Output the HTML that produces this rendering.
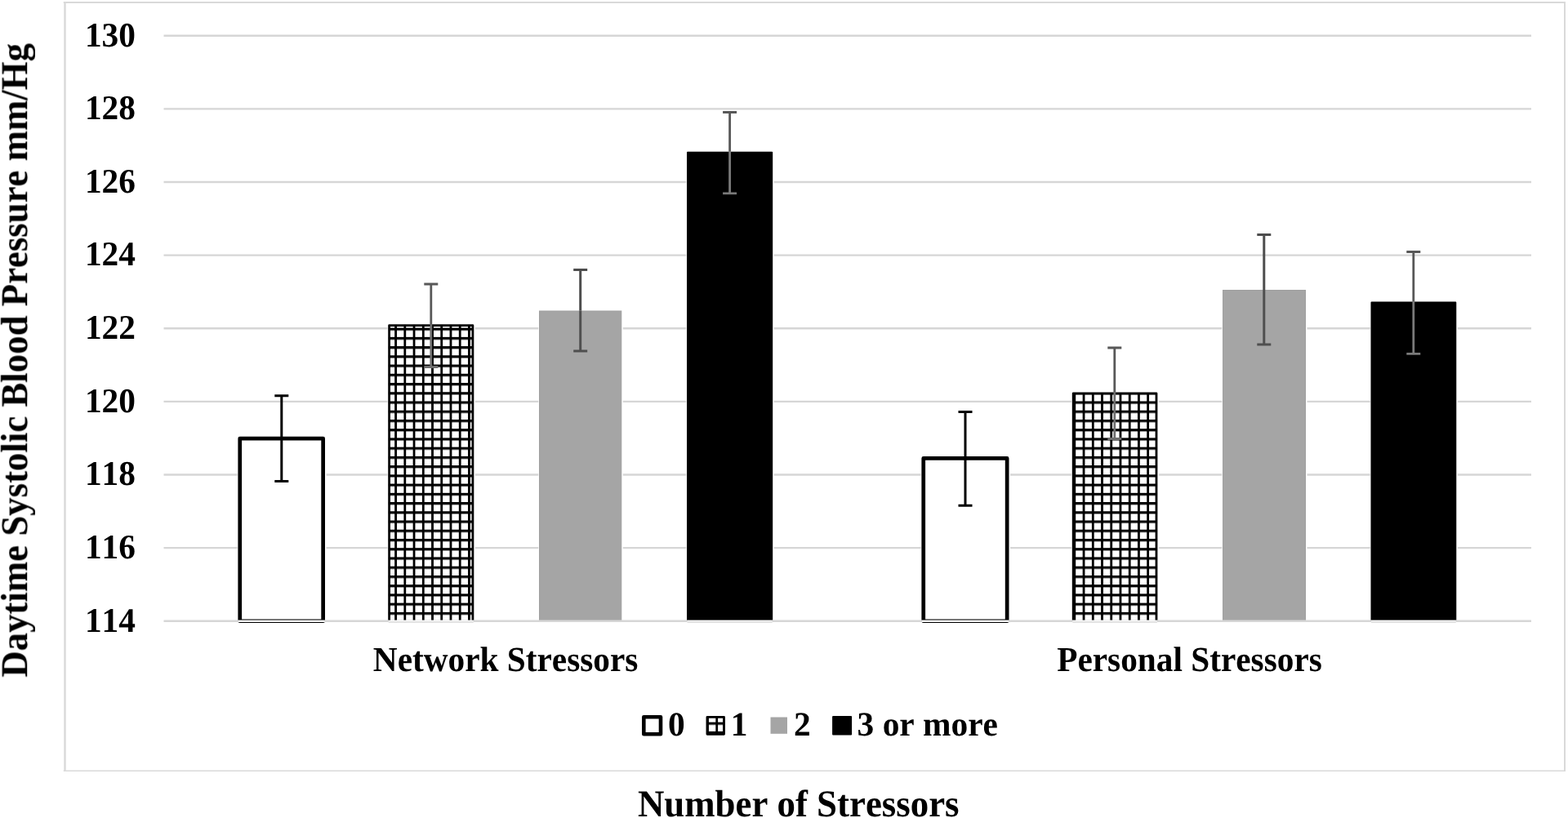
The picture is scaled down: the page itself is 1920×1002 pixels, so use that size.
<!DOCTYPE html>
<html lang="en">
<head>
<meta charset="utf-8">
<title>Daytime Systolic Blood Pressure by Number of Stressors</title>
<style>
html,body{margin:0;padding:0;background:#fff;}
body{width:1920px;height:1002px;overflow:hidden;}
svg{display:block;}
text{font-family:"Liberation Serif","DejaVu Serif",serif;font-weight:bold;fill:#000;font-kerning:none;text-rendering:geometricPrecision;}
</style>
</head>
<body>
<svg width="1920" height="1002" viewBox="0 0 1920 1002">
<defs>
<pattern id="hatch" patternUnits="userSpaceOnUse" x="0.150" y="8.450" width="11.233" height="11.233">
<rect x="0" y="0" width="11.233" height="11.233" fill="#fff"/>
<rect x="0" y="0" width="11.233" height="3.20" fill="#000"/>
<rect x="0" y="0" width="2.80" height="11.233" fill="#000"/>
</pattern>
<filter id="soft" x="0" y="0" width="100%" height="100%" filterUnits="userSpaceOnUse"><feGaussianBlur stdDeviation="0.50"/></filter>
</defs>
<rect x="0" y="0" width="1920" height="1002" fill="#fff"/>
<g filter="url(#soft)">
<g stroke="#d9d9d9" fill="none">
<line x1="77.80" y1="3.00" x2="1917.00" y2="3.00" stroke-width="2"/>
<line x1="1916.00" y1="3.00" x2="1916.00" y2="944.80" stroke-width="2"/>
<line x1="77.80" y1="944.20" x2="1917.00" y2="944.20" stroke-width="1.6"/>
<line x1="79.50" y1="3.00" x2="79.50" y2="944.80" stroke-width="2.4"/>
</g>
<g stroke="#d6d6d6" stroke-width="2.40">
<line x1="200.50" y1="43.70" x2="1875.00" y2="43.70"/>
<line x1="200.50" y1="133.33" x2="1875.00" y2="133.33"/>
<line x1="200.50" y1="222.96" x2="1875.00" y2="222.96"/>
<line x1="200.50" y1="312.59" x2="1875.00" y2="312.59"/>
<line x1="200.50" y1="402.22" x2="1875.00" y2="402.22"/>
<line x1="200.50" y1="491.85" x2="1875.00" y2="491.85"/>
<line x1="200.50" y1="581.48" x2="1875.00" y2="581.48"/>
<line x1="200.50" y1="671.11" x2="1875.00" y2="671.11"/>
</g>
<g font-size="41.40" text-anchor="end">
<text transform="translate(166.00 56.60) scale(1 1.0220)">130</text>
<text transform="translate(166.00 146.23) scale(1 1.0220)">128</text>
<text transform="translate(166.00 235.86) scale(1 1.0220)">126</text>
<text transform="translate(166.00 325.49) scale(1 1.0220)">124</text>
<text transform="translate(166.00 415.12) scale(1 1.0220)">122</text>
<text transform="translate(166.00 504.75) scale(1 1.0220)">120</text>
<text transform="translate(166.00 594.38) scale(1 1.0220)">118</text>
<text transform="translate(166.00 684.01) scale(1 1.0220)">116</text>
<text transform="translate(166.00 773.64) scale(1 1.0220)">114</text>
</g>
<rect x="290.70" y="534.20" width="108.80" height="226.54" fill="#fff"/>
<rect x="293.75" y="537.05" width="101.90" height="223.69" fill="#fff" stroke="#000" stroke-width="4.70" stroke-linejoin="round"/>
<rect x="474.50" y="396.80" width="107.30" height="363.94" fill="#fff"/>
<rect x="476.60" y="398.70" width="102.30" height="362.04" fill="url(#hatch)"/>
<path d="M476.60 760.74V398.70H578.90V760.74" fill="none" stroke="#000" stroke-width="2.80" stroke-linejoin="round"/>
<rect x="659.30" y="380.00" width="103.50" height="380.74" fill="#fff"/>
<rect x="660.50" y="381.00" width="100.30" height="379.74" fill="#a5a5a5" stroke="#a0a0a0" stroke-width="1"/>
<rect x="840.30" y="185.30" width="107.40" height="575.44" fill="#fff"/>
<rect x="842.00" y="186.80" width="103.20" height="573.94" fill="#000" stroke="#000" stroke-width="2.00" stroke-linejoin="round"/>
<rect x="1127.70" y="558.60" width="109.30" height="202.14" fill="#fff"/>
<rect x="1130.75" y="561.45" width="102.40" height="199.29" fill="#fff" stroke="#000" stroke-width="4.70" stroke-linejoin="round"/>
<rect x="1312.10" y="480.00" width="106.80" height="280.74" fill="#fff"/>
<rect x="1314.20" y="481.90" width="101.80" height="278.84" fill="url(#hatch)"/>
<path d="M1314.20 760.74V481.90H1416.00V760.74" fill="none" stroke="#000" stroke-width="2.80" stroke-linejoin="round"/>
<rect x="1496.30" y="354.50" width="104.20" height="406.24" fill="#fff"/>
<rect x="1497.50" y="355.50" width="101.00" height="405.24" fill="#a5a5a5" stroke="#a0a0a0" stroke-width="1"/>
<rect x="1677.80" y="369.00" width="107.00" height="391.74" fill="#fff"/>
<rect x="1679.50" y="370.50" width="102.80" height="390.24" fill="#000" stroke="#000" stroke-width="2.00" stroke-linejoin="round"/>
<line x1="200.50" y1="760.74" x2="1875.00" y2="760.74" stroke="#d6d6d6" stroke-width="2.40"/>
<line x1="292.00" y1="760.84" x2="397.40" y2="760.84" stroke="#fff" stroke-width="1.9"/>
<line x1="475.80" y1="760.84" x2="579.70" y2="760.84" stroke="#fff" stroke-width="1.9"/>
<line x1="475.80" y1="762.04" x2="579.70" y2="762.04" stroke="#c4c4c4" stroke-width="0.9"/>
<line x1="841.60" y1="760.84" x2="945.60" y2="760.84" stroke="#fff" stroke-width="1.9"/>
<line x1="841.60" y1="762.04" x2="945.60" y2="762.04" stroke="#c4c4c4" stroke-width="0.9"/>
<line x1="1129.00" y1="760.84" x2="1234.90" y2="760.84" stroke="#fff" stroke-width="1.9"/>
<line x1="1313.40" y1="760.84" x2="1416.80" y2="760.84" stroke="#fff" stroke-width="1.9"/>
<line x1="1313.40" y1="762.04" x2="1416.80" y2="762.04" stroke="#c4c4c4" stroke-width="0.9"/>
<line x1="1679.10" y1="760.84" x2="1782.70" y2="760.84" stroke="#fff" stroke-width="1.9"/>
<line x1="1679.10" y1="762.04" x2="1782.70" y2="762.04" stroke="#c4c4c4" stroke-width="0.9"/>
<path d="M336.30 484.70H353.30M344.80 484.70V536.90" fill="none" stroke="#000" stroke-width="3.00"/>
<path d="M336.30 589.50H353.30M344.80 536.90V589.50" fill="none" stroke="#000" stroke-width="3.00"/>
<path d="M519.30 348.00H536.30M527.80 348.00V397.30" fill="none" stroke="#595959" stroke-width="2.80"/>
<path d="M519.30 449.50H536.30M527.80 397.30V449.50" fill="none" stroke="#6e6e6e" stroke-width="2.80"/>
<path d="M702.20 330.50H719.20M710.70 330.50V380.50" fill="none" stroke="#4d4d4d" stroke-width="3.00"/>
<path d="M702.20 430.00H719.20M710.70 380.50V430.00" fill="none" stroke="#505050" stroke-width="3.00"/>
<path d="M885.10 137.50H902.10M893.60 137.50V185.80" fill="none" stroke="#595959" stroke-width="2.80"/>
<path d="M885.10 236.80H902.10M893.60 185.80V236.80" fill="none" stroke="#7a7a7a" stroke-width="2.80"/>
<path d="M1173.50 504.40H1190.50M1182.00 504.40V561.30" fill="none" stroke="#000" stroke-width="3.00"/>
<path d="M1173.50 619.20H1190.50M1182.00 561.30V619.20" fill="none" stroke="#000" stroke-width="3.00"/>
<path d="M1356.30 426.00H1373.30M1364.80 426.00V480.50" fill="none" stroke="#595959" stroke-width="2.80"/>
<path d="M1356.30 537.50H1373.30M1364.80 480.50V537.50" fill="none" stroke="#6e6e6e" stroke-width="2.80"/>
<path d="M1539.30 287.50H1556.30M1547.80 287.50V355.00" fill="none" stroke="#4d4d4d" stroke-width="3.00"/>
<path d="M1539.30 422.00H1556.30M1547.80 355.00V422.00" fill="none" stroke="#505050" stroke-width="3.00"/>
<path d="M1722.30 308.50H1739.30M1730.80 308.50V369.50" fill="none" stroke="#595959" stroke-width="2.80"/>
<path d="M1722.30 433.30H1739.30M1730.80 369.50V433.30" fill="none" stroke="#7a7a7a" stroke-width="2.80"/>
<g font-size="41.30" text-anchor="middle">
<text transform="translate(619.10 821.60) scale(1 1.0400)">Network Stressors</text>
<text transform="translate(1456.50 821.60) scale(1 1.0400)">Personal Stressors</text>
</g>
<g font-size="41.40">
<rect x="788.3" y="878.3" width="20.7" height="21" fill="#fff" stroke="#000" stroke-width="4.6" stroke-linejoin="round"/>
<text transform="translate(818.00 901.30) scale(1 1.0100)">0</text>
<rect x="866.0" y="878.4" width="20.5" height="20.8" fill="url(#hatch)" stroke="#000" stroke-width="2.9" stroke-linejoin="round"/>
<text transform="translate(894.80 901.30) scale(1 1.0100)">1</text>
<rect x="943.5" y="878.5" width="20.5" height="20.3" fill="#a5a5a5"/>
<text transform="translate(972.00 901.30) scale(1 1.0100)">2</text>
<rect x="1020.1" y="877.9" width="22" height="21.7" fill="#000" stroke="#000" stroke-width="2" stroke-linejoin="round"/>
<text transform="translate(1049.60 901.30) scale(1 1.0100)">3 or more</text>
</g>
<text transform="translate(32.80 441.40) rotate(-90) scale(1 1.0400)" text-anchor="middle" font-size="44.82">Daytime Systolic Blood Pressure mm/Hg</text>
<text transform="translate(977.70 999.60) scale(1 1.0400)" text-anchor="middle" font-size="44.85">Number of Stressors</text>
</g>
</svg>
</body>
</html>
